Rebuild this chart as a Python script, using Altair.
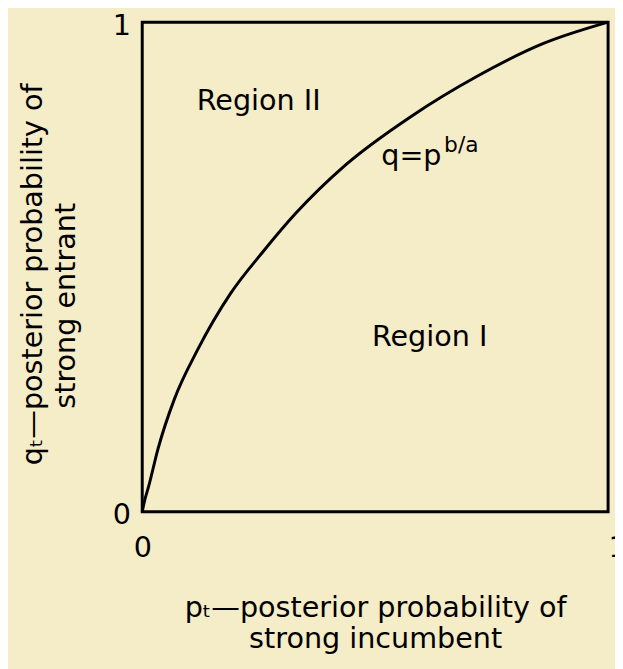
import altair as alt
import pandas as pd

# Curve q = p^(b/a)
p_vals = [0.0, 0.006, 0.0127, 0.034, 0.069, 0.119, 0.189, 0.260, 0.33, 0.436, 0.578, 0.718, 0.860, 1.0]
q_vals = [0.0, 0.026, 0.048, 0.129, 0.230, 0.331, 0.445, 0.532, 0.61, 0.708, 0.808, 0.889, 0.956, 1.0]

# Annotations
label_text = ["Region II", "Region I", "q=p"]
label_p = [0.117, 0.493, 0.513]
label_q = [0.821, 0.339, 0.708]

sup_text = ["b/a"]
sup_p = [0.648]
sup_q = [0.734]

x_ticks = [0, 1]
y_ticks = [0, 1]

x_title = ["pₜ—posterior probability of", "strong incumbent"]
y_title = ["qₜ—posterior probability of", "strong entrant" + "\u2800" * 3]

FONT = "DejaVu Sans"
BG = "#f5ecc8"

curve_df = pd.DataFrame({"p": p_vals, "q": q_vals})
label_df = pd.DataFrame({"p": label_p, "q": label_q, "t": label_text})
sup_df = pd.DataFrame({"p": sup_p, "q": sup_q, "t": sup_text})

x_scale = alt.Scale(domain=[0, 1], nice=False, zero=False)
y_scale = alt.Scale(domain=[0, 1], nice=False, zero=False)

x_axis = alt.Axis(
    values=x_ticks, format="d", grid=False, domain=False, ticks=False, tickSize=0,
    labelFont=FONT, labelFontSize=29, labelColor="black", labelPadding=22,
    labelAlign={"condition": {"test": "datum.value == 1", "value": "left"}, "value": "center"},
    labelFlush=False, labelOverlap=False,
    title=x_title, titleFont=FONT, titleFontSize=29, titleFontWeight="normal",
    titleColor="black", titleX=236, titleY=106, titleAlign="center",
    titleBaseline="alphabetic", titleLineHeight=32, titleAngle=0,
)
y_axis = alt.Axis(
    values=y_ticks, format="d", grid=False, domain=False, ticks=False, tickSize=0,
    labelFont=FONT, labelFontSize=29, labelColor="black", labelPadding=12,
    labelFlush=False, labelOverlap=False, labelBaseline="middle", labelOffset=3,
    title=y_title, titleFont=FONT, titleFontSize=29, titleFontWeight="normal",
    titleColor="black", titleX=-102, titleY=255, titleAlign="center",
    titleBaseline="alphabetic", titleLineHeight=33, titleAngle=270,
)

curve = alt.Chart(curve_df).mark_line(
    color="black", strokeWidth=3, interpolate="monotone"
).encode(
    x=alt.X("p:Q", scale=x_scale, axis=x_axis),
    y=alt.Y("q:Q", scale=y_scale, axis=y_axis),
)

labels = alt.Chart(label_df).mark_text(
    font=FONT, fontSize=29, align="left", baseline="alphabetic", color="black"
).encode(
    x=alt.X("p:Q", scale=x_scale, axis=x_axis),
    y=alt.Y("q:Q", scale=y_scale, axis=y_axis),
    text="t:N",
)

sup = alt.Chart(sup_df).mark_text(
    font=FONT, fontSize=22, align="left", baseline="alphabetic", color="black"
).encode(
    x=alt.X("p:Q", scale=x_scale, axis=x_axis),
    y=alt.Y("q:Q", scale=y_scale, axis=y_axis),
    text="t:N",
)

chart = alt.layer(curve, labels, sup).properties(
    width=472,
    height=496,
    background=BG,
    padding={"left": 136, "top": 10, "right": 7, "bottom": 155},
    autosize=alt.AutoSizeParams(type="none"),
).configure_view(stroke="black", strokeWidth=3)

chart.save("out.html", embed_options={"renderer": "svg", "actions": False})
